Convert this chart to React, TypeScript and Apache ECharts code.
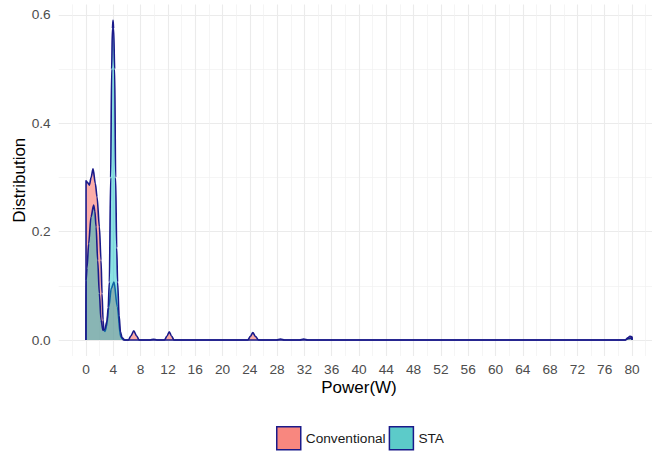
import React, { useEffect, useRef } from 'react';
import * as echarts from 'echarts';

const seriesNames = ['Conventional', 'STA'];

const convX = [0, 0.01, 0.2, 0.49, 0.75, 1.03, 1.37, 1.62, 1.96, 2.2, 2.35, 2.5, 2.62, 2.8, 3.0, 3.35, 3.7, 4.1, 4.59, 5.07, 5.5, 6.2, 6.6, 7.0, 7.4, 7.8, 9.4, 9.9, 10.4, 11.5, 11.85, 12.2, 12.55, 12.9, 23.7, 24.1, 24.45, 24.8, 25.3, 27.9, 28.5, 29.1, 31.3, 31.9, 32.5, 79.0, 79.4, 79.7, 80, 80];
const convY = [0, 0.294, 0.291, 0.286, 0.3, 0.316, 0.289, 0.264, 0.209, 0.147, 0.086, 0.037, 0.018, 0.016, 0.025, 0.061, 0.095, 0.107, 0.061, 0.006, 0.0, 0.0, 0.008, 0.017, 0.008, 0.0, 0.0, 0.0015, 0.0, 0.0, 0.007, 0.015, 0.007, 0.0, 0.0, 0.007, 0.014, 0.007, 0.0, 0.0, 0.002, 0.0, 0.0, 0.002, 0.0, 0.0, 0.004, 0.007, 0.006, 0];

const staX = [0, 0.01, 0.15, 0.39, 0.73, 1.12, 1.3, 1.48, 1.71, 1.96, 2.2, 2.49, 2.75, 3.07, 3.25, 3.42, 3.61, 3.76, 3.87, 3.96, 4.05, 4.2, 4.34, 4.5, 4.63, 4.85, 5.05, 5.3, 5.7, 79.0, 79.5, 80, 80];
const staY = [0, 0.11, 0.133, 0.178, 0.227, 0.249, 0.238, 0.209, 0.147, 0.086, 0.037, 0.018, 0.02, 0.034, 0.06, 0.107, 0.3, 0.5, 0.575, 0.59, 0.575, 0.5, 0.3, 0.17, 0.107, 0.045, 0.015, 0.004, 0.0, 0.0, 0.003, 0.004, 0];

const xTickLabels = [0, 4, 8, 12, 16, 20, 24, 28, 32, 36, 40, 44, 48, 52, 56, 60, 64, 68, 72, 76, 80];
const yTickValues = [0, 0.2, 0.4, 0.6];
const yMinorValues = [0.1, 0.3, 0.5];

const FONT = "'Liberation Sans', Arial, Helvetica, sans-serif";
const OUTLINE = '#1a1a8a';

export default function App() {
  const ref = useRef<HTMLDivElement>(null);
  useEffect(() => {
    if (!ref.current) return;
    const chart = echarts.init(ref.current, null, { renderer: 'svg' });
    const pairs = (xs: number[], ys: number[]) => xs.map((x, i) => [x, ys[i]]);
    const yMin = -0.0295;
    const yMax = 0.6195;
    chart.setOption({
      animation: false,
      backgroundColor: '#ffffff',
      textStyle: { fontFamily: FONT },
      grid: {
        left: 58.7,
        width: 600.6,
        top: 4.4,
        height: 351.6,
        containLabel: false,
        outerBoundsMode: 'none',
      },
      legend: {
        left: 276,
        top: 426,
        padding: 0,
        itemWidth: 24,
        itemHeight: 23,
        itemGap: 3,
        icon: 'rect',
        textStyle: { fontSize: 13.7, color: '#1a1a1a', fontFamily: FONT },
        data: [
          { name: seriesNames[0], itemStyle: { color: '#F8877F', borderColor: OUTLINE, borderWidth: 1.5 } },
          { name: seriesNames[1], itemStyle: { color: '#5CCBC9', borderColor: OUTLINE, borderWidth: 1.5 } },
        ],
      },
      xAxis: [
        {
          type: 'value',
          min: -4,
          max: 84,
          interval: 4,
          z: 0,
          axisLine: { show: false },
          axisTick: { show: false },
          axisLabel: {
            color: '#4d4d4d',
            fontSize: 13.7,
            margin: 6,
            fontFamily: FONT,
            formatter: (v: number) => (xTickLabels.indexOf(Math.round(v)) >= 0 ? String(Math.round(v)) : ''),
          },
          splitLine: { show: true, showMinLine: false, showMaxLine: false, lineStyle: { color: '#ebebeb', width: 1.1 } },
          minorTick: { show: false, splitNumber: 2 },
          minorSplitLine: { show: true, lineStyle: { color: '#f1f1f1', width: 0.7 } },
          name: 'Power(W)',
          nameLocation: 'middle',
          nameGap: 23,
          nameMoveOverlap: false,
          nameTextStyle: { fontSize: 17, color: '#000000', fontFamily: FONT },
        },
      ],
      yAxis: [
        {
          type: 'value',
          min: yMin,
          max: yMax,
          z: 0,
          axisLine: { show: false },
          axisTick: { show: false, customValues: yTickValues },
          axisLabel: {
            customValues: yTickValues,
            color: '#4d4d4d',
            fontSize: 13.7,
            margin: 8,
            fontFamily: FONT,
            formatter: (v: number) => v.toFixed(1),
          },
          splitLine: { show: true, lineStyle: { color: '#ebebeb', width: 1.1 } },
          name: 'Distribution',
          nameLocation: 'middle',
          nameRotate: 90,
          nameGap: 31,
          nameMoveOverlap: false,
          nameTextStyle: { fontSize: 17, color: '#000000', fontFamily: FONT },
        },
        {
          type: 'value',
          min: yMin,
          max: yMax,
          z: 0,
          position: 'left',
          axisLine: { show: false },
          axisTick: { show: false, customValues: yMinorValues },
          axisLabel: { show: false },
          splitLine: { show: true, lineStyle: { color: '#f1f1f1', width: 0.7 } },
        },
      ],
      series: [
        {
          type: 'line',
          name: seriesNames[0],
          data: pairs(convX, convY),
          showSymbol: false,
          smooth: 0.3,
          smoothMonotone: 'x',
          itemStyle: { color: '#F8766D' },
          lineStyle: { color: OUTLINE, width: 1.6 },
          areaStyle: { color: 'rgba(248,118,109,0.85)' },
          z: 5,
        },
        {
          type: 'line',
          name: seriesNames[1],
          data: pairs(staX, staY),
          showSymbol: false,
          smooth: 0.3,
          smoothMonotone: 'x',
          itemStyle: { color: '#00BFC4' },
          lineStyle: { color: OUTLINE, width: 1.6 },
          areaStyle: { color: 'rgba(0,191,196,0.65)' },
          z: 6,
        },
      ],
    });
    return () => chart.dispose();
  }, []);
  return (
    <div
      ref={ref}
      style={{ position: 'absolute', left: 0, top: 0, width: 652, height: 453, background: '#ffffff' }}
    />
  );
}
